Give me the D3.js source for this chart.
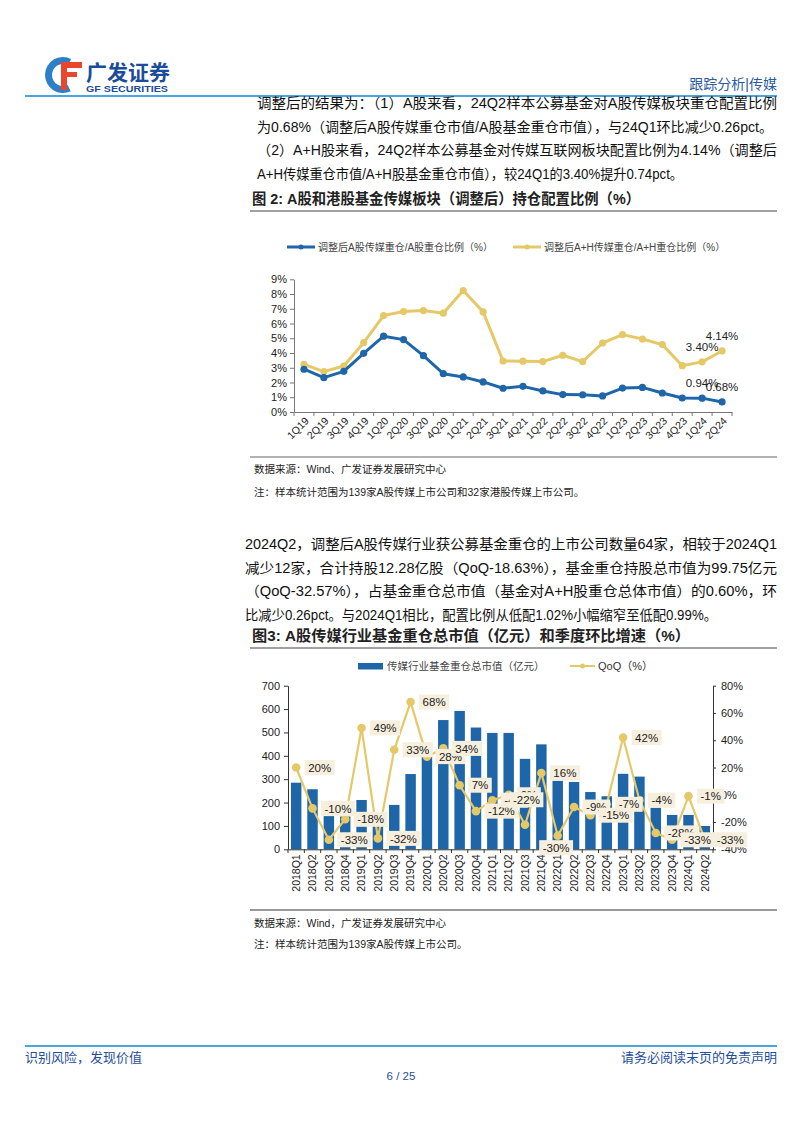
<!DOCTYPE html>
<html><head><meta charset="utf-8">
<script src="https://cdn.jsdelivr.net/npm/d3@7"></script>
<style>body{margin:0;background:#fff}svg{display:block}</style>
</head><body>
<svg id="page" width="802" height="1133"></svg>
<script>
// ---------- DATA ----------
const quarters2 = ['1Q19','2Q19','3Q19','4Q19','1Q20','2Q20','3Q20','4Q20','1Q21','2Q21','3Q21','4Q21','1Q22','2Q22','3Q22','4Q22','1Q23','2Q23','3Q23','4Q23','1Q24','2Q24'];
const shareA  = [2.90,2.33,2.76,3.98,5.14,4.91,3.82,2.60,2.38,2.04,1.61,1.74,1.43,1.18,1.17,1.09,1.62,1.67,1.29,0.95,0.94,0.68];
const shareAH = [3.23,2.74,3.12,4.70,6.54,6.81,6.88,6.70,8.24,6.79,3.46,3.45,3.42,3.85,3.42,4.68,5.25,4.95,4.57,3.14,3.40,4.14];
const pctTicks2 = [0,1,2,3,4,5,6,7,8,9];
const series2Names = ['调整后A股传媒重仓/A股重仓比例（%）','调整后A+H传媒重仓/A+H重仓比例（%）'];

const quarters3 = ['2018Q1','2018Q2','2018Q3','2018Q4','2019Q1','2019Q2','2019Q3','2019Q4','2020Q1','2020Q2','2020Q3','2020Q4','2021Q1','2021Q2','2021Q3','2021Q4','2022Q1','2022Q2','2022Q3','2022Q4','2023Q1','2023Q2','2023Q3','2023Q4','2024Q1','2024Q2'];
const holdValue = [285,257,142,140,211,143,190,322,410,553,592,521,498,498,387,449,293,288,245,227,323,311,178,147,147,99.75];
const qoq = [20,-10,-33,-18,49,-32,33,68,28,34,7,-12,-4,0,-22,16,-30,-9,-15,-7,42,-4,-28,-33,-1,-33];
const valueTicks3 = [0,100,200,300,400,500,600,700];
const qoqTicks3 = [-40,-20,0,20,40,60,80];
const series3Names = ['传媒行业基金重仓总市值（亿元）','QoQ（%）'];

const para1 = [
 '调整后的结果为：（1）A股来看，24Q2样本公募基金对A股传媒板块重仓配置比例',
 '为0.68%（调整后A股传媒重仓市值/A股基金重仓市值），与24Q1环比减少0.26pct。',
 '（2）A+H股来看，24Q2样本公募基金对传媒互联网板块配置比例为4.14%（调整后',
 'A+H传媒重仓市值/A+H股基金重仓市值），较24Q1的3.40%提升0.74pct。'
];
const para2 = [
 '2024Q2，调整后A股传媒行业获公募基金重仓的上市公司数量64家，相较于2024Q1',
 '减少12家，合计持股12.28亿股（QoQ-18.63%），基金重仓持股总市值为99.75亿元',
 '（QoQ-32.57%），占基金重仓总市值（基金对A+H股重仓总体市值）的0.60%，环',
 '比减少0.26pct。与2024Q1相比，配置比例从低配1.02%小幅缩窄至低配0.99%。'
];

// ---------- STYLE ----------
const FONT = "'Liberation Sans', Arial, 'Noto Sans CJK SC', sans-serif";
const BLUE = '#1f66a9', YEL = '#e5c867', NAVY = '#1f4e9a', LBLUE = '#4aa6da';

const svg = d3.select('#page');
svg.append('rect').attr('width',802).attr('height',1133).attr('fill','#fff');

function txt(x,y,s,o={}) {
  const t = svg.append('text').attr('x',x).attr('y',y).text(s)
    .attr('font-family',FONT).attr('font-size',o.size||14)
    .attr('fill',o.fill||'#111').attr('font-weight',o.weight||'normal')
    .attr('text-anchor',o.anchor||'start');
  if (o.len) t.attr('textLength',o.len).attr('lengthAdjust','spacingAndGlyphs');
  return t;
}

// ---------- HEADER ----------
const logo = svg.append('g');
logo.append('path').attr('transform','translate(63,75)')
  .attr('d', d3.arc()({innerRadius:11,outerRadius:18,startAngle:2.7,endAngle:6.75}))
  .attr('fill','#2d7fc8');
logo.append('rect').attr('x',61).attr('y',62).attr('width',6).attr('height',28).attr('fill','#e8472e');
logo.append('rect').attr('x',61).attr('y',62).attr('width',21).attr('height',6).attr('fill','#e8472e');
logo.append('rect').attr('x',61).attr('y',72).attr('width',16).attr('height',5).attr('fill','#e8472e');
txt(86,80,'广发证券',{size:21,weight:'bold',fill:'#1b4c9b'});
txt(86,92,'GF SECURITIES',{size:9.5,weight:'bold',fill:'#1b4c9b',len:82});
txt(777,89,'跟踪分析|传媒',{size:14,fill:'#2b5aa3',anchor:'end'});
svg.append('line').attr('x1',25).attr('x2',777).attr('y1',96).attr('y2',96).attr('stroke',LBLUE).attr('stroke-width',2);

// ---------- PARAGRAPH 1 ----------
const p1w = [520,516,520,426];
para1.forEach((s,i)=>txt(257,108+i*23.7,s,{size:14,len:p1w[i]}));

// ---------- CHART 2 ----------
txt(252,204,'图 2: A股和港股基金传媒板块（调整后）持仓配置比例（%）',{size:15,weight:'bold',fill:'#222',len:388});
svg.append('line').attr('x1',250).attr('x2',777).attr('y1',211).attr('y2',211).attr('stroke','#444').attr('stroke-width',1.2);

const x2 = d3.scaleBand().domain(quarters2).range([294,732]);
const y2 = d3.scaleLinear().domain([0,9]).range([412,279.3]);
const g2 = svg.append('g');

// legend
const leg2 = [[BLUE,287,series2Names[0]],[YEL,513,series2Names[1]]];
leg2.forEach(([c,lx,name])=>{
  g2.append('line').attr('x1',lx).attr('x2',lx+28).attr('y1',247).attr('y2',247).attr('stroke',c).attr('stroke-width',3);
  g2.append('circle').attr('cx',lx+14).attr('cy',247).attr('r',2.5).attr('fill',c);
  g2.append('text').attr('x',lx+31).attr('y',250.5).text(name).attr('font-family',FONT).attr('font-size',10).attr('fill','#444');
});

// axes
const ay2 = g2.append('g').attr('transform','translate(294,0)')
  .call(d3.axisLeft(y2).tickValues(pctTicks2).tickFormat(d=>d+'%').tickSize(4).tickSizeOuter(0));
ay2.select('.domain').attr('stroke','#777');
ay2.selectAll('.tick line').attr('stroke','#777');
ay2.selectAll('.tick text').attr('font-family',FONT).attr('font-size',11).attr('fill','#222').attr('x',-7);

const ax2 = g2.append('g').attr('transform','translate(0,412)')
  .call(d3.axisBottom(x2).tickSize(0).tickSizeOuter(0));
ax2.select('.domain').attr('stroke','#777');
ax2.selectAll('.tick text').attr('font-family',FONT).attr('font-size',10.5).attr('fill','#222')
  .attr('text-anchor','end').attr('transform','translate(3,7) rotate(-45)').attr('dy','0.35em').attr('y',0).attr('x',0);
d3.range(quarters2.length+1).forEach(i=>{
  const xx = x2.range()[0] + i*x2.step();
  g2.append('line').attr('x1',xx).attr('x2',xx).attr('y1',412).attr('y2',416).attr('stroke','#777');
});

const line2 = d3.line().x((d,i)=>x2(quarters2[i])+x2.bandwidth()/2).y(d=>y2(d));
[[shareAH,YEL],[shareA,BLUE]].forEach(([arr,c])=>{
  g2.append('path').datum(arr).attr('d',line2).attr('fill','none').attr('stroke',c).attr('stroke-width',3).attr('stroke-linejoin','round');
  g2.selectAll(null).data(arr).enter().append('circle')
    .attr('cx',(d,i)=>x2(quarters2[i])+x2.bandwidth()/2).attr('cy',d=>y2(d)).attr('r',3.6).attr('fill',c);
});
// end labels
[[shareAH,20],[shareAH,21],[shareA,20],[shareA,21]].forEach(([arr,i])=>{
  g2.append('text').attr('x',x2(quarters2[i])+x2.bandwidth()/2).attr('y',y2(arr[i])-11)
    .text(arr[i].toFixed(2)+'%').attr('text-anchor','middle')
    .attr('font-family',FONT).attr('font-size',11.5).attr('fill','#222');
});

svg.append('line').attr('x1',250).attr('x2',777).attr('y1',457).attr('y2',457).attr('stroke','#666').attr('stroke-width',1);
txt(254,473,'数据来源：Wind、广发证券发展研究中心',{size:10.5,fill:'#222'});
txt(254,496,'注：样本统计范围为139家A股传媒上市公司和32家港股传媒上市公司。',{size:10.5,fill:'#222'});

// ---------- PARAGRAPH 2 ----------
const p2w = [532,532,532,472];
para2.forEach((s,i)=>txt(245,549+i*23.5,s,{size:14,len:p2w[i]}));

// ---------- CHART 3 ----------
txt(252,641,'图3: A股传媒行业基金重仓总市值（亿元）和季度环比增速（%）',{size:15,weight:'bold',fill:'#222',len:438});
svg.append('line').attr('x1',250).attr('x2',777).attr('y1',648).attr('y2',648).attr('stroke','#444').attr('stroke-width',1.2);

const x3 = d3.scaleBand().domain(quarters3).range([288,713]).paddingInner(0.36).paddingOuter(0.18);
const y3 = d3.scaleLinear().domain([0,700]).range([849.3,685.7]);
const y3r = d3.scaleLinear().domain([-40,80]).range([849.3,685.7]);
const g3 = svg.append('g');

// legend
g3.append('rect').attr('x',358).attr('y',663).attr('width',25).attr('height',6.5).attr('fill',BLUE);
g3.append('text').attr('x',387).attr('y',670).text(series3Names[0]).attr('font-family',FONT).attr('font-size',10.5).attr('fill','#444');
g3.append('line').attr('x1',570).attr('x2',595).attr('y1',666).attr('y2',666).attr('stroke',YEL).attr('stroke-width',2);
g3.append('circle').attr('cx',582.5).attr('cy',666).attr('r',2.5).attr('fill',YEL);
g3.append('text').attr('x',598).attr('y',670).text(series3Names[1]).attr('font-family',FONT).attr('font-size',11).attr('fill','#333');

// bars
g3.selectAll(null).data(holdValue).enter().append('rect')
  .attr('x',(d,i)=>x3(quarters3[i])).attr('width',x3.bandwidth())
  .attr('y',d=>y3(d)).attr('height',d=>y3(0)-y3(d)).attr('fill',BLUE);

// axes
const ayl = g3.append('g').attr('transform','translate(288,0)')
  .call(d3.axisLeft(y3).tickValues(valueTicks3).tickSize(4).tickSizeOuter(0));
const ayr = g3.append('g').attr('transform','translate(713,0)')
  .call(d3.axisRight(y3r).tickValues(qoqTicks3).tickFormat(d=>d+'%').tickSize(3).tickSizeOuter(0));
const ax3 = g3.append('g').attr('transform','translate(0,849.3)')
  .call(d3.axisBottom(x3).tickSize(0).tickSizeOuter(0));
[ayl,ayr,ax3].forEach(a=>{a.select('.domain').attr('stroke','#333');a.selectAll('.tick line').attr('stroke','#333');
  a.selectAll('.tick text').attr('font-family',FONT).attr('font-size',11).attr('fill','#222');});
ayl.selectAll('.tick text').attr('x',-8);
ayr.selectAll('.tick text').attr('x',8);
ax3.selectAll('.tick text').attr('text-anchor','end').attr('transform','rotate(-90)').attr('x',-5).attr('y',0).attr('dy','0.35em').attr('font-size',10.5);
const step3 = (713-288)/quarters3.length;
d3.range(quarters3.length+1).forEach(i=>{
  const xx = 288 + i*step3;
  g3.append('line').attr('x1',xx).attr('x2',xx).attr('y1',849.3).attr('y2',853).attr('stroke','#333');
});

// qoq line
const cx3 = i => x3(quarters3[i]) + x3.bandwidth()/2;
g3.append('path').datum(qoq).attr('d',d3.line().x((d,i)=>cx3(i)).y(d=>y3r(d)))
  .attr('fill','none').attr('stroke',YEL).attr('stroke-width',2.2);
g3.selectAll(null).data(qoq).enter().append('circle')
  .attr('cx',(d,i)=>cx3(i)).attr('cy',d=>y3r(d)).attr('r',4.3).attr('fill',YEL);

// labels (layout offsets for a few crowded points)
const labelShift = {14:[-24,-25], 16:[-27,12]};
qoq.forEach((v,i)=>{
  const sh = labelShift[i] || [0,0];
  const tx = cx3(i) + 12 + sh[0], ty = y3r(v) + sh[1];
  const lg = g3.append('g');
  const t = lg.append('text').attr('x',tx).attr('y',ty).attr('dy','0.36em').text(v+'%')
    .attr('font-family',FONT).attr('font-size',11.5).attr('fill','#222');
  const w = t.node().getComputedTextLength();
  lg.insert('rect','text').attr('x',tx-3.5).attr('y',ty-7.5).attr('width',w+7).attr('height',15).attr('fill','#f6efdd');
});

svg.append('line').attr('x1',250).attr('x2',777).attr('y1',910).attr('y2',910).attr('stroke','#333').attr('stroke-width',1.2);
txt(254,927,'数据来源：Wind，广发证券发展研究中心',{size:10.5,fill:'#222'});
txt(254,948,'注：样本统计范围为139家A股传媒上市公司。',{size:10.5,fill:'#222'});

// ---------- FOOTER ----------
svg.append('line').attr('x1',25).attr('x2',777).attr('y1',1046).attr('y2',1046).attr('stroke',LBLUE).attr('stroke-width',2);
txt(25,1062,'识别风险，发现价值',{size:13,fill:NAVY});
txt(777,1062,'请务必阅读末页的免责声明',{size:13,fill:NAVY,anchor:'end'});
txt(401,1080,'6 / 25',{size:11.5,fill:NAVY,anchor:'middle'});
</script>
</body></html>
